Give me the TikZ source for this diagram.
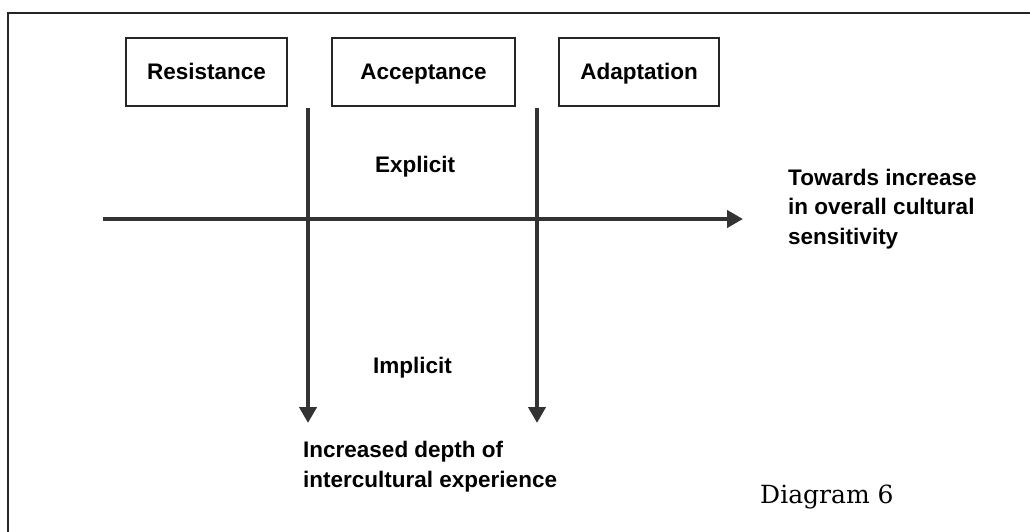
\documentclass[tikz,border=0pt]{standalone}
\usepackage{fontspec}
\newfontfamily\arialb{Liberation Sans}
\newfontfamily\capserif{DejaVu Serif}
\usetikzlibrary{arrows.meta}
\tikzset{
  stagebox/.style={draw=black!85, line width=1.2pt, minimum height=68pt, inner sep=0pt,
    text height=16pt, text depth=0pt,
    font=\arialb\bfseries\fontsize{22.5}{27}\selectfont},
  bigarrow/.style={draw=black!80, line width=4pt, -{Triangle[length=16pt,width=17pt]}},
  lbl/.style={inner sep=0pt, font=\arialb\bfseries\fontsize{22.5}{29.5}\selectfont, align=left},
  frameline/.style={draw=black!85, line width=2pt}
}
\begin{document}
\begin{tikzpicture}[x=1pt,y=-1pt]
\useasboundingbox (0,0) rectangle (1030,532);
% frame (top and left edges only)
\coordinate (fbl) at (8,532);
\coordinate (ftl) at (8,13);
\coordinate (ftr) at (1030,13);
\draw[frameline] (fbl) -- (ftl) -- (ftr);
% boxes
\node[stagebox, minimum width=161pt] (res) at (206.5,72) {Resistance};
\node[stagebox, minimum width=183pt] (acc) at (423.5,72) {Acceptance};
\node[stagebox, minimum width=160pt] (ada) at (639,72) {Adaptation};
% arrows
\coordinate (v1s) at (308,108);
\coordinate (v1e) at (308,423);
\coordinate (v2s) at (537,108);
\coordinate (v2e) at (537,423);
\coordinate (hs) at (103,219);
\coordinate (he) at (743,219);
\draw[bigarrow] (hs) -- (he);
\draw[bigarrow] (v1s) -- (v1e);
\draw[bigarrow] (v2s) -- (v2e);
% labels (multi-line nodes anchored at the baseline of their last line)
\node[lbl, anchor=base west] (expl) at (375,172) {Explicit};
\node[lbl, anchor=base west] (impl) at (373,373) {Implicit};
\node[lbl, anchor=base west] (tow) at (788,244) {Towards increase\\in overall cultural\\sensitivity};
\node[lbl, anchor=base west] (dep) at (303,487) {Increased depth of\\intercultural experience};
\node[inner sep=0pt, anchor=base west, font=\capserif\fontsize{25}{30}\selectfont] (cap) at (760,503) {Diagram 6};
\end{tikzpicture}
\end{document}
